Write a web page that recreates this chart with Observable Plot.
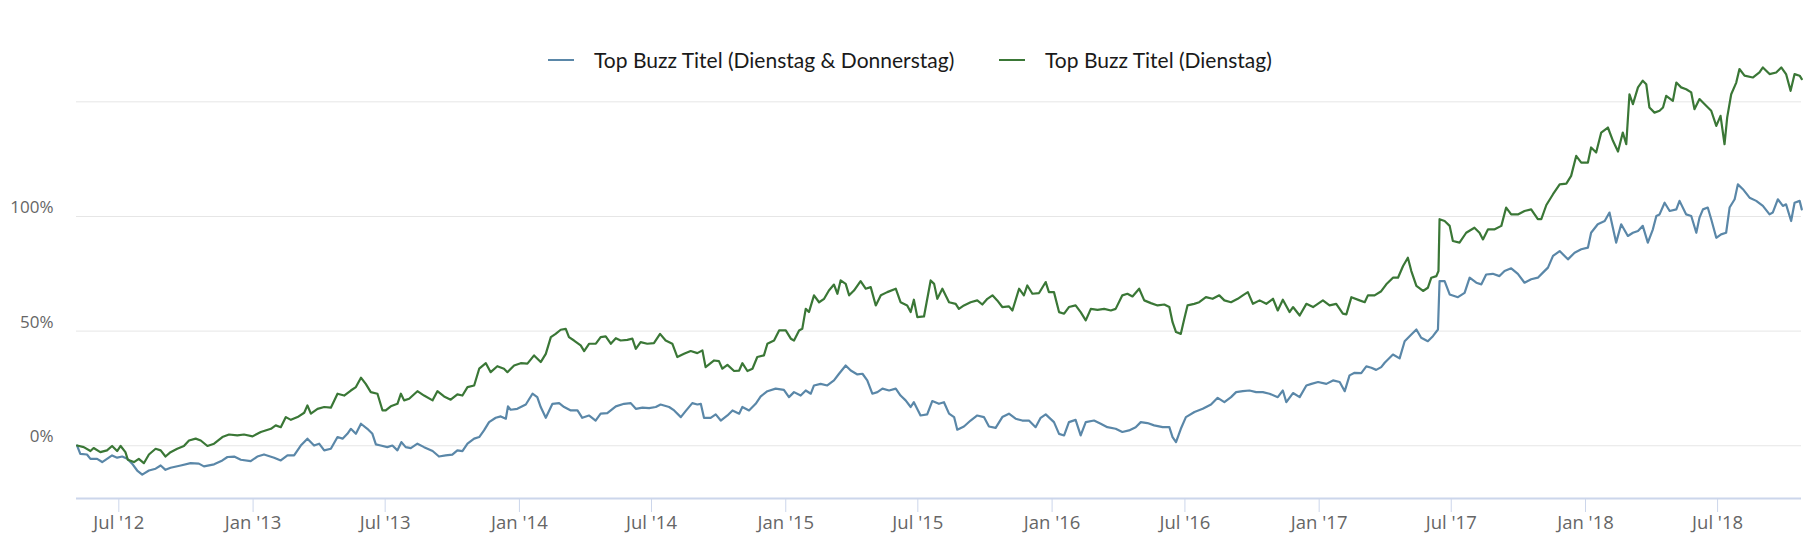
<!DOCTYPE html>
<html>
<head>
<meta charset="utf-8">
<script src="https://cdn.jsdelivr.net/npm/d3@7"></script>
<script src="https://cdn.jsdelivr.net/npm/@observablehq/plot@0.6"></script>
<style>
  html, body { margin: 0; padding: 0; background: #fff; }
  #wrap { position: relative; width: 1807px; height: 554px; }
  #legend { position: absolute; top: 0; left: 0; width: 1807px; height: 80px; font-family: Lato, "Open Sans", sans-serif; font-size: 21px; color: #1a1a1a; }
  .item { position: absolute; top: 46px; display: flex; align-items: center; white-space: nowrap; line-height: 28px; }
  .sym { display: inline-block; width: 26px; height: 0; border-top: 2.5px solid; margin-right: 20px; }
</style>
</head>
<body>
<div id="wrap">
  <div id="chart"></div>
  <div id="legend"></div>
</div>
<script>
// Series names and colours
const seriesNames = ["Top Buzz Titel (Dienstag & Donnerstag)", "Top Buzz Titel (Dienstag)"];
const seriesColors = ["#5a87a8", "#3a7736"];

// X-axis ticks
const tickDates = ["2012-07-01","2013-01-01","2013-07-01","2014-01-01","2014-07-01","2015-01-01","2015-07-01","2016-01-01","2016-07-01","2017-01-01","2017-07-01","2018-01-01","2018-07-01"];
const tickLabels = ["Jul '12","Jan '13","Jul '13","Jan '14","Jul '14","Jan '15","Jul '15","Jan '16","Jul '16","Jan '17","Jul '17","Jan '18","Jul '18"];
const yTicks = [0, 50, 100, 150];
const yLabelTicks = [0, 50, 100];
const xDomain = ["2012-05-04", "2018-10-24"];
const yDomain = [-23, 175];

// Series 1: Dienstag & Donnerstag (time as decimal year, value in %)
const tBlue = [2012.341,2012.353,2012.378,2012.391,2012.416,2012.435,2012.453,2012.472,2012.491,2012.510,2012.529,2012.547,2012.566,2012.585,2012.610,2012.635,2012.654,2012.672,2012.691,2012.729,2012.766,2012.797,2012.816,2012.854,2012.885,2012.904,2012.929,2012.954,2012.991,2013.016,2013.041,2013.079,2013.104,2013.129,2013.154,2013.179,2013.204,2013.229,2013.248,2013.267,2013.292,2013.317,2013.336,2013.354,2013.367,2013.386,2013.405,2013.429,2013.448,2013.461,2013.479,2013.504,2013.523,2013.542,2013.557,2013.573,2013.592,2013.617,2013.642,2013.674,2013.698,2013.723,2013.748,2013.767,2013.786,2013.805,2013.830,2013.849,2013.867,2013.886,2013.911,2013.930,2013.949,2013.957,2013.967,2013.992,
2014.024,2014.049,2014.067,2014.080,2014.099,2014.124,2014.149,2014.168,2014.193,2014.218,2014.236,2014.261,2014.286,2014.305,2014.330,2014.362,2014.393,2014.418,2014.437,2014.462,2014.487,2014.512,2014.530,2014.562,2014.581,2014.606,2014.624,2014.649,2014.668,2014.681,2014.693,2014.718,2014.737,2014.756,2014.781,2014.800,2014.825,2014.837,2014.862,2014.887,2014.906,2014.931,2014.962,2014.993,2015.012,2015.031,2015.056,2015.075,2015.094,2015.106,2015.131,2015.156,2015.181,2015.200,2015.225,2015.244,2015.269,2015.288,2015.306,2015.325,2015.344,2015.363,2015.388,2015.413,2015.431,2015.450,2015.469,2015.481,2015.506,2015.531,2015.550,2015.575,2015.594,
2015.613,2015.632,2015.644,2015.669,2015.694,2015.719,2015.744,2015.763,2015.788,2015.813,2015.838,2015.863,2015.888,2015.913,2015.938,2015.957,2015.976,2016.007,2016.026,2016.045,2016.063,2016.088,2016.107,2016.126,2016.157,2016.182,2016.207,2016.238,2016.263,2016.288,2016.313,2016.332,2016.357,2016.382,2016.414,2016.439,2016.451,2016.464,2016.482,2016.501,2016.533,2016.564,2016.595,2016.620,2016.645,2016.670,2016.689,2016.714,2016.739,2016.764,2016.789,2016.814,2016.845,2016.864,2016.877,2016.902,2016.927,2016.952,2016.971,2016.996,2017.027,2017.052,2017.077,2017.096,2017.114,2017.133,2017.158,2017.177,2017.196,2017.214,2017.233,
2017.246,2017.277,2017.302,2017.321,2017.346,2017.365,2017.383,2017.408,2017.427,2017.446,2017.452,2017.471,2017.490,2017.521,2017.546,2017.565,2017.590,2017.609,2017.627,2017.652,2017.677,2017.696,2017.721,2017.746,2017.771,2017.796,2017.821,2017.840,2017.859,2017.878,2017.903,2017.934,2017.959,2017.984,2018.009,2018.021,2018.046,2018.072,2018.090,2018.115,2018.134,2018.159,2018.178,2018.197,2018.215,2018.234,2018.253,2018.266,2018.278,2018.297,2018.316,2018.341,2018.353,2018.378,2018.397,2018.416,2018.428,2018.441,2018.459,2018.472,2018.491,2018.509,2018.528,2018.541,2018.560,2018.572,2018.591,2018.616,2018.641,2018.666,2018.691,2018.703,2018.722,2018.741,2018.753,2018.772,2018.785,2018.804,2018.812];
const vBlue = [0.1,-3.5,-3.8,-5.7,-5.7,-7.1,-5.7,-4.2,-5.2,-4.7,-5.7,-7.8,-10.8,-12.6,-10.8,-10.0,-8.6,-10.5,-9.6,-8.6,-7.6,-7.8,-9.0,-8.1,-6.4,-4.9,-4.7,-6.1,-6.7,-4.7,-3.8,-5.2,-6.4,-4.2,-4.2,0.1,3.1,0.1,0.9,-2.0,-1.3,3.8,3.1,5.2,7.4,5.2,9.6,7.4,5.2,0.6,0.1,-0.6,0.1,-2.0,1.6,-0.6,-1.0,0.9,-0.6,-2.3,-4.7,-4.2,-3.9,-2.0,-2.3,0.9,3.1,3.8,6.7,10.3,12.2,12.8,11.8,17.2,15.7,16.1,
18.0,22.7,21.2,16.9,12.2,18.3,18.6,16.9,15.4,15.4,12.2,13.2,11.0,14.0,14.2,17.2,18.3,18.6,16.1,16.6,16.4,16.9,18.0,16.9,15.4,12.5,15.1,18.6,18.0,18.3,12.2,12.2,13.7,11.0,13.2,15.4,14.0,16.9,15.4,18.3,21.5,23.8,24.9,24.4,21.2,23.4,21.9,24.1,22.7,26.3,27.0,26.3,28.5,31.4,35.0,32.8,31.1,31.4,28.5,22.7,23.4,24.9,24.1,24.9,21.9,19.8,16.9,19.0,13.2,13.7,19.5,18.3,19.0,
14.0,12.5,7.0,8.4,11.0,13.2,12.5,8.4,7.8,12.5,14.0,11.8,11.0,11.0,8.1,12.2,13.7,10.3,5.2,4.5,10.3,11.3,4.5,10.3,11.0,9.6,8.1,7.4,6.0,6.7,8.1,10.3,9.9,8.9,8.1,8.1,3.8,1.6,7.4,12.5,14.7,16.1,18.0,20.9,19.0,21.2,23.4,23.8,24.1,23.4,23.4,22.7,21.2,24.1,19.0,23.0,21.2,26.3,27.0,27.8,27.0,28.5,27.8,23.8,30.7,31.8,31.7,34.6,34.0,33.1,34.3,
36.2,39.8,38.1,45.6,48.5,50.7,47.1,45.6,47.8,50.7,71.8,71.8,66.0,64.8,66.7,73.3,71.1,70.4,74.7,75.0,74.0,76.2,77.4,75.0,71.1,72.6,73.3,75.5,77.7,82.8,84.9,81.3,84.2,85.7,86.4,92.9,96.6,98.0,101.7,88.6,96.6,91.5,92.9,93.7,95.9,88.6,94.4,100.2,100.9,106.0,102.4,103.1,106.8,100.9,100.2,92.9,99.5,103.1,103.9,98.8,90.7,92.2,92.9,103.9,107.5,114.0,111.9,108.2,106.8,104.6,100.9,101.7,107.5,104.6,105.3,98.0,106.0,106.8,103.1];

// Series 2: Dienstag (time as decimal year, value in %)
const tGreen = [2012.341,2012.366,2012.391,2012.403,2012.428,2012.453,2012.472,2012.491,2012.504,2012.522,2012.531,2012.554,2012.572,2012.591,2012.610,2012.635,2012.654,2012.672,2012.691,2012.716,2012.741,2012.760,2012.785,2012.804,2012.829,2012.854,2012.885,2012.910,2012.941,2012.966,2012.998,2013.029,2013.067,2013.085,2013.104,2013.123,2013.142,2013.167,2013.192,2013.204,2013.217,2013.242,2013.267,2013.292,2013.317,2013.342,2013.367,2013.386,2013.405,2013.423,2013.442,2013.467,2013.486,2013.498,2013.517,2013.542,2013.555,2013.567,2013.586,2013.617,2013.642,2013.674,2013.692,2013.717,2013.742,2013.767,2013.786,2013.805,2013.830,2013.849,2013.874,2013.892,2013.917,2013.942,2013.955,2013.980,2014.005,
2014.030,2014.055,2014.080,2014.099,2014.118,2014.136,2014.155,2014.174,2014.186,2014.205,2014.230,2014.243,2014.262,2014.287,2014.305,2014.324,2014.343,2014.362,2014.380,2014.405,2014.424,2014.437,2014.455,2014.480,2014.505,2014.528,2014.549,2014.574,2014.593,2014.618,2014.643,2014.668,2014.687,2014.699,2014.731,2014.749,2014.762,2014.781,2014.806,2014.825,2014.837,2014.856,2014.875,2014.893,2014.918,2014.931,2014.956,2014.975,2015.000,2015.019,2015.031,2015.050,2015.062,2015.075,2015.087,2015.106,2015.125,2015.144,2015.162,2015.181,2015.194,2015.206,2015.225,2015.238,2015.256,2015.281,2015.300,2015.319,2015.338,2015.357,2015.381,2015.413,2015.431,2015.456,2015.469,2015.481,2015.494,2015.519,2015.544,2015.557,2015.569,2015.588,
2015.613,2015.638,2015.650,2015.669,2015.694,2015.719,2015.738,2015.757,2015.776,2015.794,2015.813,2015.838,2015.851,2015.876,2015.894,2015.907,2015.926,2015.951,2015.976,2015.988,2016.007,2016.026,2016.045,2016.063,2016.088,2016.107,2016.126,2016.145,2016.170,2016.195,2016.220,2016.238,2016.263,2016.282,2016.301,2016.326,2016.345,2016.370,2016.395,2016.420,2016.439,2016.451,2016.464,2016.482,2016.495,2016.507,2016.532,2016.551,2016.576,2016.601,2016.626,2016.645,2016.670,2016.695,2016.714,2016.733,2016.752,2016.777,2016.802,2016.827,2016.845,2016.864,2016.889,2016.902,2016.927,2016.952,2016.977,2017.014,2017.039,2017.064,2017.089,2017.102,2017.121,2017.152,2017.171,2017.183,2017.208,2017.233,
2017.252,2017.277,2017.296,2017.315,2017.333,2017.346,2017.365,2017.390,2017.408,2017.421,2017.440,2017.448,2017.452,2017.471,2017.490,2017.502,2017.527,2017.552,2017.583,2017.602,2017.615,2017.634,2017.659,2017.684,2017.702,2017.721,2017.746,2017.771,2017.796,2017.821,2017.834,2017.853,2017.878,2017.903,2017.928,2017.946,2017.965,2017.984,2018.009,2018.021,2018.040,2018.059,2018.084,2018.103,2018.122,2018.140,2018.153,2018.165,2018.178,2018.197,2018.215,2018.228,2018.240,2018.259,2018.278,2018.291,2018.303,2018.328,2018.341,2018.359,2018.378,2018.397,2018.409,2018.428,2018.453,2018.472,2018.491,2018.507,2018.522,2018.532,2018.547,2018.566,2018.578,2018.597,2018.628,2018.653,2018.666,2018.691,2018.716,2018.735,2018.753,2018.770,2018.785,2018.804,2018.812];
const vGreen = [0.1,-0.6,-2.3,-1.0,-2.8,-2.0,-0.1,-2.3,-0.1,-2.8,-6.1,-7.1,-5.7,-7.6,-3.8,-1.3,-2.0,-4.7,-2.8,-1.3,-0.1,2.3,3.1,2.3,-0.1,0.9,3.8,4.9,4.5,4.9,4.1,6.0,7.4,8.9,8.1,12.5,11.3,12.5,14.4,17.6,14.0,16.1,16.9,16.6,22.7,21.9,24.1,25.6,29.7,27.0,23.4,22.7,15.4,15.4,17.2,18.3,22.7,19.8,20.5,23.8,21.9,19.8,23.8,21.5,20.1,22.4,21.9,25.6,26.3,33.6,36.0,32.1,34.7,33.6,32.1,35.0,36.0,
35.8,39.4,36.5,40.1,47.4,48.8,50.6,51.0,47.4,45.9,43.8,41.3,44.5,44.5,47.4,47.7,44.5,46.9,45.9,46.2,46.7,42.3,45.2,44.5,44.8,48.8,45.9,44.5,38.7,40.1,41.3,40.4,41.6,34.3,37.2,36.9,33.6,35.3,32.6,32.8,36.0,32.6,33.6,38.7,39.4,44.5,45.9,50.3,50.3,46.7,45.9,50.3,51.0,59.7,58.3,65.6,62.6,64.1,67.7,70.3,66.3,72.1,70.6,65.6,67.7,71.8,68.5,69.2,61.2,65.6,67.0,68.5,62.6,61.2,58.3,63.7,56.1,56.4,72.1,70.6,64.1,68.5,
62.6,61.9,59.7,61.2,62.6,63.4,61.6,64.1,65.6,63.4,60.5,60.8,59.0,68.5,65.6,69.9,66.3,66.6,71.4,67.0,67.0,58.3,57.6,60.5,61.2,58.3,54.7,59.7,59.3,59.7,59.0,59.7,65.6,66.3,65.1,68.5,63.4,62.2,61.2,61.6,60.5,53.9,49.6,48.8,55.4,61.2,61.9,62.6,64.8,64.1,65.6,63.4,62.6,64.1,65.6,67.0,61.9,63.4,61.9,64.1,59.0,63.7,58.3,60.5,56.8,61.9,60.5,63.4,61.2,61.9,57.6,57.3,64.8,63.4,62.6,65.6,65.6,67.4,
70.4,73.3,73.3,78.4,82.0,76.2,69.7,67.5,68.9,73.3,74.0,76.2,98.8,98.0,95.9,89.3,88.6,92.9,95.1,92.9,90.0,94.4,94.4,95.9,103.9,100.9,100.9,102.4,103.1,98.8,98.8,105.0,109.7,114.0,114.3,117.7,126.4,123.5,123.5,130.1,127.9,136.6,138.8,133.0,128.3,136.6,131.5,153.3,149.0,156.3,159.2,157.7,147.5,145.3,146.1,147.5,152.6,150.4,158.4,156.3,155.5,154.1,146.8,151.2,148.3,146.1,139.5,143.9,131.5,143.2,153.3,158.4,164.3,161.4,160.6,162.8,165.0,162.1,162.8,165.0,162.1,154.8,162.1,161.4,159.9];

// decimal year -> Date
function yearToDate(y) {
  const yr = Math.floor(y);
  const s = Date.UTC(yr, 0, 1), e = Date.UTC(yr + 1, 0, 1);
  return new Date(s + (y - yr) * (e - s));
}

const data = [];
tBlue.forEach((t, i) => data.push({series: seriesNames[0], date: yearToDate(t), value: vBlue[i]}));
tGreen.forEach((t, i) => data.push({series: seriesNames[1], date: yearToDate(t), value: vGreen[i]}));

const labelOf = new Map(tickDates.map((d, i) => [+new Date(d), tickLabels[i]]));

const chart = Plot.plot({
  width: 1807,
  height: 554,
  marginLeft: 76,
  marginRight: 6,
  marginTop: 44,
  marginBottom: 56,
  style: {fontFamily: "'Open Sans', sans-serif", background: "#fff", overflow: "visible"},
  x: {type: "utc", domain: xDomain.map(d => new Date(d))},
  y: {domain: yDomain},
  color: {domain: seriesNames, range: seriesColors},
  marks: [
    Plot.ruleY(yTicks, {stroke: "#e6e6e6", strokeWidth: 1}),
    Plot.line(data, {x: "date", y: "value", z: "series", stroke: "series", strokeWidth: 2.2, strokeLinejoin: "round", curve: "linear"}),
    Plot.ruleY([yDomain[0]], {stroke: "#ccd6eb", strokeWidth: 2}),
    Plot.axisX({
      ticks: tickDates.map(d => new Date(d)),
      tickFormat: d => labelOf.get(+d),
      tickSize: 14, tickPadding: 3,
      stroke: "#ccd6eb", fill: "#666", fontSize: 18.5, label: null
    }),
    Plot.axisY({
      ticks: yLabelTicks,
      tickFormat: d => `${d}%`,
      tickSize: 0, tickPadding: 23, dy: -9,
      fill: "#666", fontSize: 17, label: null
    })
  ]
});
document.getElementById("chart").appendChild(chart);

// Legend
const legend = document.getElementById("legend");
const lefts = [548, 999];
seriesNames.forEach((name, i) => {
  const item = document.createElement("div");
  item.className = "item";
  item.style.left = lefts[i] + "px";
  const sym = document.createElement("span");
  sym.className = "sym";
  sym.style.borderTopColor = seriesColors[i];
  const txt = document.createElement("span");
  txt.textContent = name;
  item.appendChild(sym);
  item.appendChild(txt);
  legend.appendChild(item);
});
</script>
</body>
</html>
